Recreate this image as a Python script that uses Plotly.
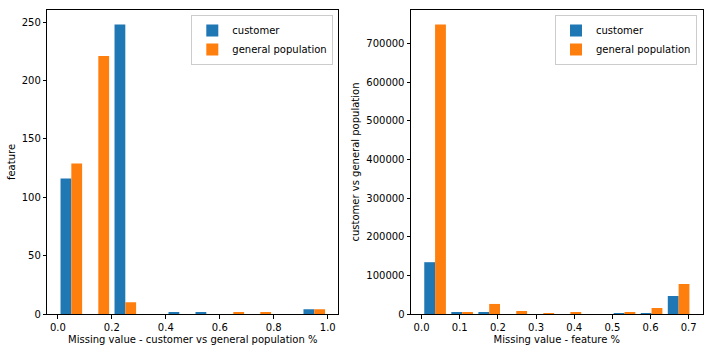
import plotly.graph_objects as go

# ---- data (histogram counts, 10 bins each) ----
left_bin_min, left_bin_max = 0.0, 1.0
right_bin_min, right_bin_max = 0.0, 0.709
left_customer = [116, 0, 248, 0, 1, 1, 0, 0, 0, 4]
left_general = [129, 221, 10, 0, 0, 0, 1, 1, 0, 4]
right_customer = [134000, 3000, 5000, 0, 0, 0, 0, 2500, 2500, 46500]
right_general = [749000, 3000, 26000, 7800, 2500, 5000, 0, 4500, 15500, 77500]
left_xticks = [0.0, 0.2, 0.4, 0.6, 0.8, 1.0]
left_yticks = [0, 50, 100, 150, 200, 250]
right_xticks = [0.0, 0.1, 0.2, 0.3, 0.4, 0.5, 0.6, 0.7]
right_yticks = [0, 100000, 200000, 300000, 400000, 500000, 600000, 700000]
series_names = ["customer", "general population"]

BLUE, ORANGE = "#1f77b4", "#ff7f0e"
W, H = 712, 352


def centers(lo, hi, counts):
    n = len(counts)
    w = (hi - lo) / n
    return [lo + w * (i + 0.5) for i in range(n)], w


lx, lw = centers(left_bin_min, left_bin_max, left_customer)
rx, rw = centers(right_bin_min, right_bin_max, right_customer)

fig = go.Figure()
fig.add_trace(go.Bar(x=lx, y=left_customer, name=series_names[0], marker=dict(color=BLUE, line=dict(width=0)),
                     xaxis="x", yaxis="y", legend="legend"))
fig.add_trace(go.Bar(x=lx, y=left_general, name=series_names[1], marker=dict(color=ORANGE, line=dict(width=0)),
                     xaxis="x", yaxis="y", legend="legend"))
fig.add_trace(go.Bar(x=rx, y=right_customer, name=series_names[0], marker=dict(color=BLUE, line=dict(width=0)),
                     xaxis="x2", yaxis="y2", legend="legend2"))
fig.add_trace(go.Bar(x=rx, y=right_general, name=series_names[1], marker=dict(color=ORANGE, line=dict(width=0)),
                     xaxis="x2", yaxis="y2", legend="legend2"))


def xrange_for(lo, hi, w):
    a = lo + 0.1 * w
    b = hi - 0.1 * w
    s = b - a
    return [a - 0.05 * s, b + 0.05 * s]


ax_common = dict(showline=True, linecolor="black", linewidth=1, mirror=True, ticks="outside",
                 ticklen=3.5, tickwidth=0.8, tickcolor="black", showgrid=False, zeroline=False,
                 tickfont=dict(size=10, color="black"), automargin=False)

ydom = [1 - 314 / H, 1 - 10 / H]
fig.update_layout(
    width=W, height=H, margin=dict(l=0, r=0, t=0, b=0),
    paper_bgcolor="white", plot_bgcolor="white",
    font=dict(family="DejaVu Sans", size=10, color="black"),
    barmode="group", bargap=0.2, bargroupgap=0,
    xaxis=dict(domain=[47.3 / W, 338.3 / W], anchor="y", range=xrange_for(left_bin_min, left_bin_max, lw),
               tickvals=left_xticks, ticktext=[f"{v:.1f}" for v in left_xticks],
               title=dict(text="Missing value - customer vs general population %", standoff=4, font=dict(size=10)),
               **ax_common),
    yaxis=dict(domain=ydom, anchor="x", range=[0, max(max(left_customer), max(left_general)) * 1.05],
               tickvals=left_yticks, title=dict(text="feature", standoff=4, font=dict(size=10)), **ax_common),
    xaxis2=dict(domain=[411 / W, 702.7 / W], anchor="y2", range=xrange_for(right_bin_min, right_bin_max, rw),
                tickvals=right_xticks, ticktext=[f"{v:.1f}" for v in right_xticks],
                title=dict(text="Missing value - feature %", standoff=4, font=dict(size=10)), **ax_common),
    yaxis2=dict(domain=ydom, anchor="x2", range=[0, max(max(right_customer), max(right_general)) * 1.05],
                tickvals=right_yticks, ticktext=[str(v) for v in right_yticks],
                title=dict(text="customer vs general population", standoff=4, font=dict(size=10)), **ax_common),
    legend=dict(x=333.3 / W, y=1 - 15 / H, xanchor="right", yanchor="top", bgcolor="white",
                bordercolor="#cccccc", borderwidth=1, font=dict(size=10), tracegroupgap=0),
    legend2=dict(x=697 / W, y=1 - 15 / H, xanchor="right", yanchor="top", bgcolor="white",
                 bordercolor="#cccccc", borderwidth=1, font=dict(size=10), tracegroupgap=0),
)

fig.write_html("out.html")
